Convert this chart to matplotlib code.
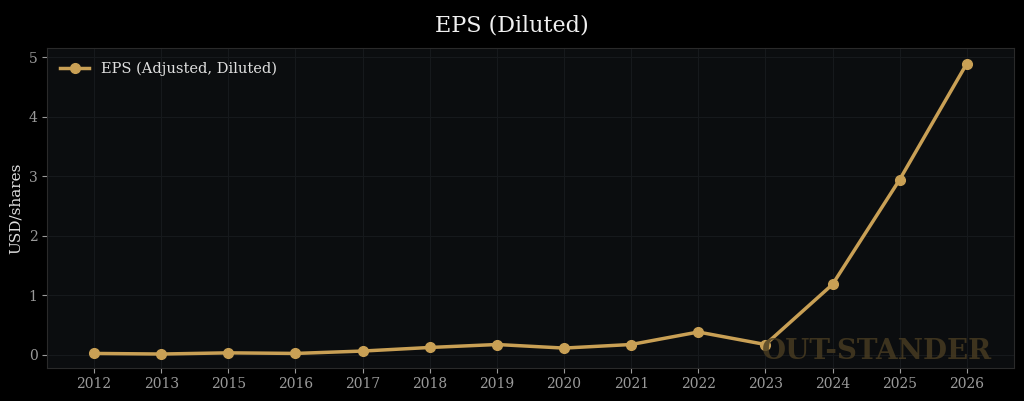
import matplotlib
matplotlib.use("Agg")
import matplotlib.pyplot as plt

years = ["2012", "2013", "2015", "2016", "2017", "2018", "2019", "2020",
         "2021", "2022", "2023", "2024", "2025", "2026"]
eps = [0.02, 0.01, 0.03, 0.02, 0.06, 0.12, 0.17, 0.11,
       0.17, 0.38, 0.17, 1.18, 2.94, 4.89]

plt.rcParams["font.family"] = "DejaVu Serif"
gold = "#c9a055"

fig = plt.figure(figsize=(10.24, 4.01), dpi=100, facecolor="#000000")
ax = fig.add_axes([0.046, 0.083, 0.944, 0.797])
ax.set_facecolor("#0b0d0f")

x = list(range(len(years)))
ax.plot(x, eps, color=gold, lw=2.5, marker="o", ms=7, label="EPS (Adjusted, Diluted)")

ax.set_xticks(x)
ax.set_xticklabels(years)
ax.set_xlim(-0.7, len(years) - 0.3)
ax.set_ylim(-0.22, 5.15)
ax.set_yticks([0, 1, 2, 3, 4, 5])
ax.grid(True, color="#16191c", lw=0.8)
ax.tick_params(colors="#9a9a9a", labelsize=10)
for s in ax.spines.values():
    s.set_color("#2a2a2a")
ax.set_ylabel("USD/shares", color="#e0e0e0", fontsize=11)
fig.suptitle("EPS (Diluted)", color="#f0f0f0", fontsize=16, y=0.965)

leg = ax.legend(loc="upper left", frameon=False, fontsize=10.5)
for t in leg.get_texts():
    t.set_color("#e0e0e0")

ax.text(0.858, 0.05, "OUT-STANDER", transform=ax.transAxes, ha="center",
        va="center", fontsize=20, fontweight="bold", color="#4a3d22", alpha=0.8)

fig.savefig("out.png", dpi=100, facecolor=fig.get_facecolor())
